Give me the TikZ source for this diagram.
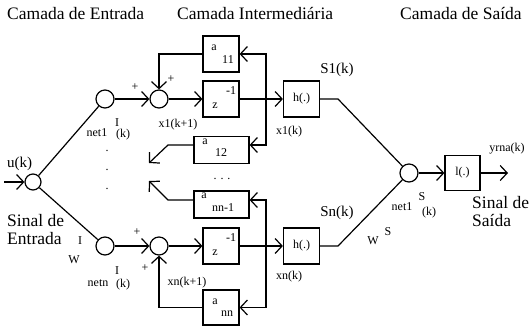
\documentclass[tikz,border=0pt]{standalone}
\usepackage{fontspec}
\setmainfont{Liberation Serif}
\usetikzlibrary{arrows.meta,calc}
\begin{document}
\begin{tikzpicture}[x=1pt,y=-1pt,
  lw/.style={line width=1.2pt},
  arr/.style={-{Straight Barb[length=7pt,width=15pt,line width=1.2pt]}},
  neuron/.style={circle,draw,line width=1.2pt,minimum size=18pt,inner sep=0pt},
  blk/.style={draw,line width=1.2pt,inner sep=0pt,minimum width=36pt,minimum height=36pt,font=\fontsize{12}{12}\selectfont},
  sm/.style={font=\fontsize{12}{12}\selectfont,inner sep=0pt},
  md/.style={font=\fontsize{15}{15}\selectfont,inner sep=0pt},
  lg/.style={font=\fontsize{17.5}{17.5}\selectfont,inner sep=0pt}
]
\useasboundingbox (0,0) rectangle (529,331);

% titles
\node[lg,anchor=west] (t1) at (7,14) {Camada de Entrada};
\node[lg,anchor=west] (t2) at (177,14) {Camada Intermediária};
\node[lg,anchor=west] (t3) at (400,14) {Camada de Saída};

% input
\node[neuron,minimum size=16pt] (in) at (33,182) {};
\coordinate (src) at (4,182);
\draw[lw,arr] (src) -- (in);
\node[md,anchor=west] (uk) at (7,164) {u(k)};
\node[lg,anchor=west] (si1) at (7,221) {Sinal de};
\node[lg,anchor=west] (si2) at (7,239) {Entrada};

% first neurons
\node[neuron] (n1) at (105,99) {};
\node[neuron] (nn) at (105,246) {};
\draw[lw] (in) -- (n1);
\draw[lw] (in) -- (nn);

% sums
\node[neuron] (s1) at (159,99) {};
\node[neuron] (sn) at (159,246) {};
\draw[lw,arr] (n1) -- (s1);
\draw[lw,arr] (nn) -- (sn);

% delay blocks
\node[blk] (z1) at (221,99) {};
\node[blk] (zn) at (221,246) {};
\draw[lw,arr] (s1) -- (z1);
\draw[lw,arr] (sn) -- (zn);
\node[sm] (z1a) at (215,106) {z};
\node[sm] (z1b) at (231,91) {-1};
\node[sm] (zna) at (215,253) {z};
\node[sm] (znb) at (231,238) {-1};

% h blocks
\node[blk] (h1) at (301.5,99) {h(.)};
\node[blk] (hn) at (301.5,246) {h(.)};
\draw[lw,arr] (z1) -- (h1);
\draw[lw,arr] (zn) -- (hn);

% feedback blocks
\node[blk] (a11) at (221,54) {};
\node[blk,minimum width=55pt,minimum height=27pt] (a12) at (221.5,150) {};
\node[blk,minimum width=55pt,minimum height=27pt] (ann1) at (221.5,204.5) {};
\node[blk,minimum height=35pt] (ann) at (221,307.5) {};
\node[sm] (a11a) at (214,48) {a};
\node[sm] (a11b) at (228,60) {11};
\node[sm] (a12a) at (205,142) {a};
\node[sm] (a12b) at (221,153) {12};
\node[sm] (ann1a) at (204,196) {a};
\node[sm] (ann1b) at (223,208) {nn-1};
\node[sm] (anna) at (215,302) {a};
\node[sm] (annb) at (227,314) {nn};

\coordinate (j1) at (266,99);
\coordinate (jn) at (266,246);
\draw[lw,arr] (j1) |- (a11.east);
\draw[lw,arr] (j1) |- ([yshift=5pt]a12.east);
\draw[lw,arr] (jn) |- ([yshift=4.5pt]ann1.east);
\draw[lw,arr] (jn) |- (ann.east);

\draw[lw,arr] (a11.west) -| (s1.north);
\draw[lw,arr] (ann.west) -| (sn.south);
\coordinate (k12) at (168,145);
\coordinate (e12) at (149,163);
\draw[lw,arr] ([yshift=5pt]a12.west) -- (k12) -- (e12);
\coordinate (k1n) at (168,200);
\coordinate (e1n) at (149,181);
\draw[lw,arr] ([yshift=4.5pt]ann1.west) -- (k1n) -- (e1n);

% dots
\node[sm] (d1) at (107,151) {.};
\node[sm] (d2) at (107,170) {.};
\node[sm] (d3) at (107,189) {.};
\node[sm] (d4) at (222,179) {. . .};

% output
\node[neuron] (o) at (409,173) {};
\coordinate (b1) at (338,99);
\coordinate (bn) at (338,246);
\draw[lw] (h1) -- (b1) -- (o);
\draw[lw] (hn) -- (bn) -- (o);
\node[blk,minimum width=35pt,minimum height=35pt] (l) at (462.5,173) {l(.)};
\draw[lw,arr] (o) -- (l);
\coordinate (out) at (508,173);
\draw[lw,arr] (l) -- (out);
\node[sm] (y) at (507,149) {yrna(k)};
\node[lg,anchor=west] (so1) at (472,203) {Sinal de};
\node[lg,anchor=west] (so2) at (472,221) {Saída};

% labels
\node[sm] (p1) at (135,87) {+};
\node[sm] (p2) at (171,79) {+};
\node[sm] (p3) at (137,232) {+};
\node[sm] (p4) at (145,268) {+};
\node[sm] (x1a) at (178,125) {x1(k+1)};
\node[sm] (xna) at (187,283) {xn(k+1)};
\node[sm] (net1) at (97,133) {net1};
\node[sm] (net1I) at (117,123) {I};
\node[sm] (net1k) at (123,135) {(k)};
\node[sm] (netn) at (98,283) {netn};
\node[sm] (netnI) at (117,271) {I};
\node[sm] (netnk) at (123,285) {(k)};
\node[sm] (wI) at (74,260) {W};
\node[sm] (wIs) at (80,241) {I};
\node[sm] (x1k) at (289,132) {x1(k)};
\node[sm] (xnk) at (289,277) {xn(k)};
\node[md] (S1) at (337,70) {S1(k)};
\node[md] (Sn) at (337,213) {Sn(k)};
\node[sm] (onet) at (402,207) {net1};
\node[sm] (oS) at (422,197) {S};
\node[sm] (ok) at (429,213) {(k)};
\node[sm] (wS) at (373,241) {W};
\node[sm] (wSs) at (388,232) {S};
\end{tikzpicture}
\end{document}
